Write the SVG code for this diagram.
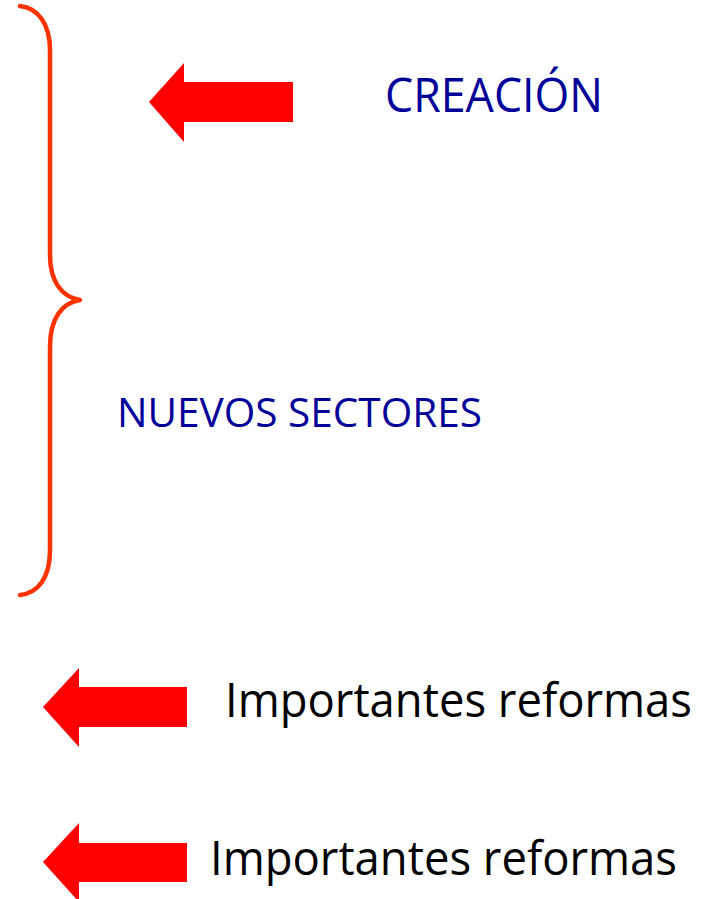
<svg xmlns="http://www.w3.org/2000/svg" width="703" height="899" viewBox="0 0 703 899">
<defs>
<style>
.arrow{fill:#FF0000;}
.brace{fill:none;stroke:#FF3300;stroke-width:4.5;stroke-linecap:round;stroke-linejoin:round;}
.blue{font-family:"Open Sans","Noto Sans","Liberation Sans",sans-serif;fill:#000099;}
.black{font-family:"Open Sans","Noto Sans","Liberation Sans",sans-serif;fill:#000000;}
</style>
</defs>
<rect width="703" height="899" fill="#FFFFFF"/>
<g id="brace">
<path class="brace" d="M20,6 C38,8 50,24 50,50 L50,255 C50,282 62,297 80,300 C62,303 50,318 50,347 L50,550 C50,578 38,593 20,595"/>
</g>
<g id="connectors">
<polygon class="arrow" points="149,102 184,63 184,82 293,82 293,122 184,122 184,142"/>
<polygon class="arrow" points="43,707 79,668 79,687 187,687 187,727 79,727 79,747"/>
<polygon class="arrow" points="43,862 79,823 79,843 187,843 187,882 79,882 79,902"/>
</g>
<g id="creacion">
<text class="blue" x="385" y="112" font-size="47" textLength="218" lengthAdjust="spacingAndGlyphs">CREACIÓN</text>
</g>
<g id="nuevos-sectores">
<text class="blue" x="117" y="427" font-size="40.5" textLength="365" lengthAdjust="spacingAndGlyphs">NUEVOS SECTORES</text>
</g>
<g id="reformas-1">
<text class="black" x="225" y="717" font-size="47" textLength="467" lengthAdjust="spacingAndGlyphs">Importantes reformas</text>
</g>
<g id="reformas-2">
<text class="black" x="210" y="875" font-size="47" textLength="467" lengthAdjust="spacingAndGlyphs">Importantes reformas</text>
</g>
</svg>
